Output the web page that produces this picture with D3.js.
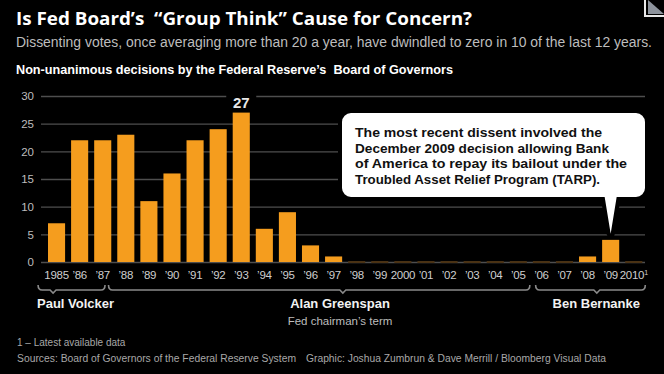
<!DOCTYPE html>
<html>
<head>
<meta charset="utf-8">
<script src="https://cdn.jsdelivr.net/npm/d3@7"></script>
<style>
  html, body { margin: 0; padding: 0; background: #000; }
  svg { display: block; }
  text { font-family: "Liberation Sans", Arial, sans-serif; white-space: pre; }
</style>
</head>
<body>
<svg id="chart"></svg>
<script>
const width = 664;
const height = 374;

// data
const years = d3.range(1985, 2011);
const votes = [7, 22, 22, 23, 11, 16, 22, 24, 27, 6, 9, 3, 1, 0, 0, 0, 0, 0, 0, 0, 0, 0, 0, 1, 4, 0];
const yearLabels = ['1985', '’86', '’87', '’88', '’89', '’90', '’91', '’92', '’93', '’94', '’95', '’96', '’97',
    '’98', '’99', '2000', '’01', '’02', '’03', '’04', '’05', '’06', '’07', '’08', '’09', '2010'];
const yTicks = [0, 5, 10, 15, 20, 25, 30];
const chairmen = ['Paul Volcker', 'Alan Greenspan', 'Ben Bernanke'];
const termStart = [1984.2, 1987.25, 2005.75];
const termEnd = [1987.1, 2005.5, 2010.5];
const termNotch = [1984.85, 1997.4, 2008.4];
const calloutLines = [
    'The most recent dissent involved the',
    'December 2009 decision allowing Bank',
    'of America to repay its bailout under the',
    'Troubled Asset Relief Program (TARP).'
];

const barColor = '#f59d1e';
const gridColor = '#4e4e4e';

const svg = d3.select('#chart')
    .attr('width', width)
    .attr('height', height);

svg.append('rect')
    .attr('width', width)
    .attr('height', height)
    .attr('fill', '#000');

// scales
const x = d3.scaleBand()
    .domain(years)
    .range([45, 645.3])
    .paddingInner(0.26)
    .paddingOuter(0.13);

const y = d3.scaleLinear()
    .domain([0, 30])
    .range([262, 96]);

// continuous year position, used for the chairman braces
const yearX = d3.scaleLinear()
    .domain([1985, 2010])
    .range([x(1985) + x.bandwidth() / 2, x(2010) + x.bandwidth() / 2]);

// header
svg.append('text')
    .attr('x', 16).attr('y', 25)
    .attr('fill', '#fff')
    .style('font-family', '"Open Sans", sans-serif')
    .style('font-weight', 700)
    .style('font-size', '18.5px')
    .attr('textLength', 456)
    .attr('lengthAdjust', 'spacingAndGlyphs')
    .text('Is Fed Board’s  “Group Think” Cause for Concern?');

svg.append('text')
    .attr('x', 16).attr('y', 47)
    .attr('fill', '#bdbdbd')
    .style('font-size', '14px')
    .attr('textLength', 636)
    .attr('lengthAdjust', 'spacingAndGlyphs')
    .text('Dissenting votes, once averaging more than 20 a year, have dwindled to zero in 10 of the last 12 years.');

svg.append('text')
    .attr('x', 16).attr('y', 74)
    .attr('fill', '#fff')
    .style('font-weight', 700)
    .style('font-size', '12px')
    .attr('textLength', 437)
    .attr('lengthAdjust', 'spacingAndGlyphs')
    .text('Non-unanimous decisions by the Federal Reserve’s  Board of Governors');

// grid + y labels
const yAxis = svg.append('g')
    .attr('transform', 'translate(41,0)')
    .call(d3.axisLeft(y).tickValues(yTicks).tickSize(-(645 - 41)).tickPadding(7));
yAxis.select('.domain').remove();
yAxis.selectAll('.tick line')
    .attr('stroke', gridColor)
    .attr('stroke-width', 1.3);
yAxis.selectAll('.tick text')
    .attr('fill', '#bdbdbd')
    .style('font-size', '11.5px')
    .style('font-family', '"Liberation Sans", Arial, sans-serif');

// bars
svg.selectAll('rect.bar')
    .data(years)
    .join('rect')
    .attr('class', 'bar')
    .attr('x', d => x(d))
    .attr('width', x.bandwidth())
    .attr('y', (d, i) => y(votes[i]))
    .attr('height', (d, i) => y(0) - y(votes[i]))
    .attr('fill', barColor);

// zero-value years show a faint brown strip on the baseline
svg.selectAll('rect.zero')
    .data(years.filter((d, i) => votes[i] === 0))
    .join('rect')
    .attr('class', 'zero')
    .attr('x', d => x(d))
    .attr('width', x.bandwidth())
    .attr('y', y(0) - 1)
    .attr('height', 2)
    .attr('fill', '#4a3214');

// peak label with black backing that cuts the gridline
const peakIdx = votes.indexOf(d3.max(votes));
const peakX = x(years[peakIdx]) + x.bandwidth() / 2;
svg.append('rect')
    .attr('x', peakX - 15).attr('y', y(votes[peakIdx]) - 20)
    .attr('width', 30).attr('height', 17)
    .attr('fill', '#000');
svg.append('text')
    .attr('x', peakX).attr('y', y(votes[peakIdx]) - 5)
    .attr('text-anchor', 'middle')
    .attr('fill', '#e8e8e8')
    .style('font-weight', 700)
    .style('font-size', '15px')
    .text(votes[peakIdx]);

// x axis labels
const xAxis = svg.append('g')
    .attr('transform', `translate(0,${y(0) + 8})`)
    .call(d3.axisBottom(x).tickSize(0).tickPadding(0).tickFormat((d, i) => yearLabels[i]));
xAxis.select('.domain').remove();
xAxis.selectAll('.tick text')
    .attr('fill', '#cfcfcf')
    .attr('dy', '0.75em')
    .style('font-size', '11.5px')
    .style('font-family', '"Liberation Sans", Arial, sans-serif')
    .style('letter-spacing', '-0.3px');
xAxis.selectAll('.tick')
    .filter(d => d === 2010)
    .select('text')
    .append('tspan')
    .attr('dy', '-0.45em')
    .style('font-size', '7px')
    .text('1');

// chairman braces
const braceY = 290;
const braces = svg.append('g');
chairmen.forEach((name, i) => {
    const x0 = yearX(termStart[i]);
    const x1 = yearX(termEnd[i]);
    const xm = yearX(termNotch[i]);
    const r = 4;
    const p = d3.path();
    p.moveTo(x0, braceY - 5);
    p.quadraticCurveTo(x0, braceY, x0 + r, braceY);
    p.lineTo(xm - 3, braceY);
    p.lineTo(xm, braceY + 3);
    p.lineTo(xm + 3, braceY);
    p.lineTo(x1 - r, braceY);
    p.quadraticCurveTo(x1, braceY, x1, braceY - 5);
    braces.append('path')
        .attr('d', p.toString())
        .attr('fill', 'none')
        .attr('stroke', '#8a8a8a')
        .attr('stroke-width', 1.6);
});

const nameStyle = sel => sel
    .attr('y', 308)
    .attr('fill', '#f2f2f2')
    .style('font-weight', 700)
    .style('font-size', '13px');

svg.append('text').call(nameStyle)
    .attr('x', 37)
    .text(chairmen[0]);
svg.append('text').call(nameStyle)
    .attr('x', 340)
    .attr('text-anchor', 'middle')
    .text(chairmen[1]);
svg.append('text').call(nameStyle)
    .attr('x', 640)
    .attr('text-anchor', 'end')
    .text(chairmen[2]);

svg.append('text')
    .attr('x', 340).attr('y', 325)
    .attr('text-anchor', 'middle')
    .attr('fill', '#bdbdbd')
    .style('font-size', '11.5px')
    .text('Fed chairman’s term');

// footnotes
svg.append('text')
    .attr('x', 17).attr('y', 346)
    .attr('fill', '#a8a8a8')
    .style('font-size', '10px')
    .text('1 – Latest available data');
svg.append('text')
    .attr('x', 17).attr('y', 362)
    .attr('fill', '#a8a8a8')
    .style('font-size', '10px')
    .attr('textLength', 279)
    .attr('lengthAdjust', 'spacingAndGlyphs')
    .text('Sources: Board of Governors of the Federal Reserve System');
svg.append('text')
    .attr('x', 306).attr('y', 362)
    .attr('fill', '#a8a8a8')
    .style('font-size', '10px')
    .attr('textLength', 300)
    .attr('lengthAdjust', 'spacingAndGlyphs')
    .text('Graphic: Joshua Zumbrun & Dave Merrill / Bloomberg Visual Data');

// callout for 2009
const tipX = x(2009) + x.bandwidth() / 2;
const tipY = y(votes[years.indexOf(2009)]) - 6;
const box = { x0: 342, y0: 113, x1: 645, y1: 197, r: 9 };
const cp = d3.path();
cp.moveTo(box.x0 + box.r, box.y0);
cp.lineTo(box.x1 - box.r, box.y0);
cp.arcTo(box.x1, box.y0, box.x1, box.y0 + box.r, box.r);
cp.lineTo(box.x1, box.y1 - box.r);
cp.arcTo(box.x1, box.y1, box.x1 - box.r, box.y1, box.r);
cp.lineTo(tipX + 6, box.y1);
cp.lineTo(tipX, tipY);
cp.lineTo(tipX - 6, box.y1);
cp.lineTo(box.x0 + box.r, box.y1);
cp.arcTo(box.x0, box.y1, box.x0, box.y1 - box.r, box.r);
cp.lineTo(box.x0, box.y0 + box.r);
cp.arcTo(box.x0, box.y0, box.x0 + box.r, box.y0, box.r);
cp.closePath();

svg.append('path')
    .attr('d', cp.toString())
    .attr('fill', '#000')
    .attr('stroke', '#000')
    .attr('stroke-width', 8)
    .attr('stroke-linejoin', 'round');
svg.append('path')
    .attr('d', cp.toString())
    .attr('fill', '#fff');

svg.selectAll('text.callout')
    .data(calloutLines)
    .join('text')
    .attr('class', 'callout')
    .attr('x', 355)
    .attr('y', (d, i) => 137 + i * 15.6)
    .attr('fill', '#111')
    .style('font-weight', 700)
    .style('font-size', '13.5px')
    .attr('textLength', (d, i) => [247, 254, 272, 245][i])
    .attr('lengthAdjust', 'spacingAndGlyphs')
    .text(d => d);

// page-curl icon in the corner
svg.append('path')
    .attr('d', 'M645,0 V16 H664')
    .attr('fill', 'none')
    .attr('stroke', '#e8e8e8')
    .attr('stroke-width', 2);
svg.append('path')
    .attr('d', 'M648,0 L664,14 H648 Z')
    .attr('fill', '#8d939c');
</script>
</body>
</html>
